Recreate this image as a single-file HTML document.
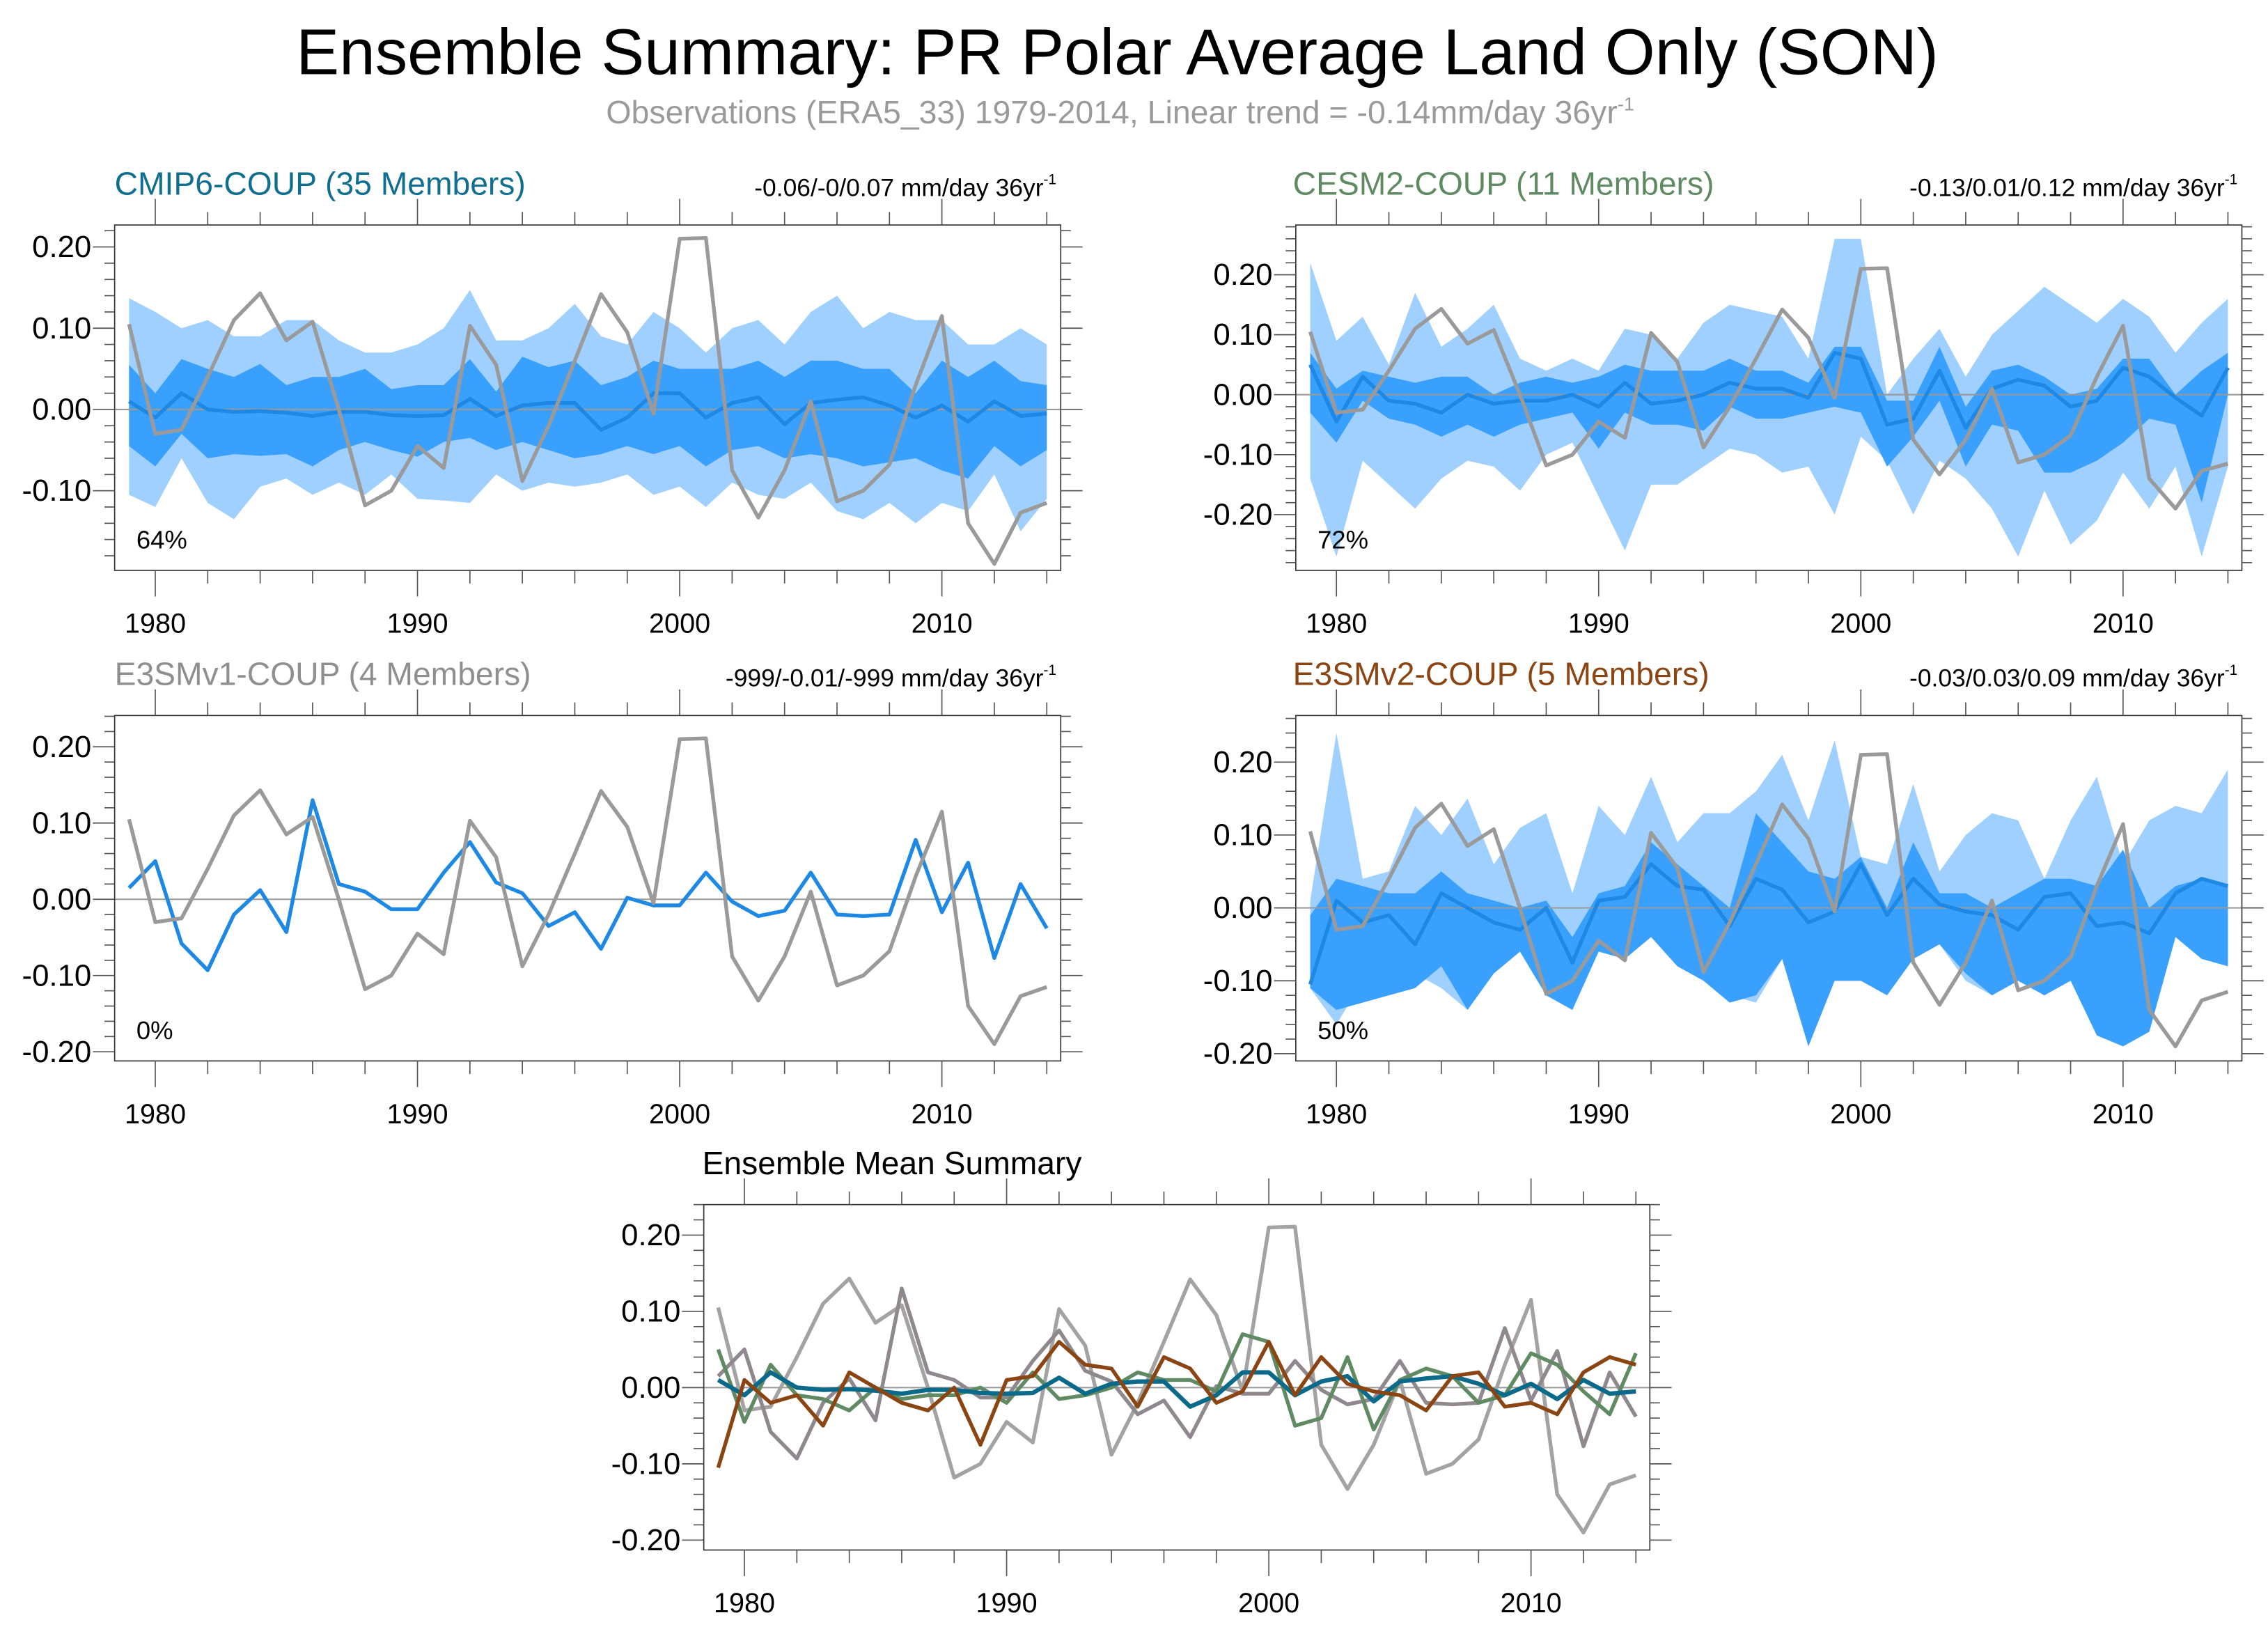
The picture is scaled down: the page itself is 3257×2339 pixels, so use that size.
<!DOCTYPE html>
<html><head><meta charset="utf-8"><style>
html,body{margin:0;padding:0;background:#fff}
svg{display:block;font-family:"Liberation Sans",sans-serif}
</style></head><body>
<svg id="chart" width="3257" height="2339" viewBox="0 0 1563 1122.4" xmlns="http://www.w3.org/2000/svg">
<text x="770" y="51" text-anchor="middle" font-size="44.5" fill="#000">Ensemble Summary: PR Polar Average Land Only (SON)</text>
<text x="772" y="85" text-anchor="middle" font-size="22.3" fill="#9a9a9a">Observations (ERA5_33) 1979-2014, Linear trend = -0.14mm/day 36yr<tspan font-size="13" dy="-9">-1</tspan></text>
</svg>
<script>
const years = [];
for (let y = 1979; y <= 2014; y++) years.push(y);
const obs = [0.105,-0.03,-0.025,0.04,0.11,0.143,0.085,0.108,0.0,-0.118,-0.10,-0.045,-0.072,0.103,0.055,-0.088,-0.02,0.06,0.142,0.095,-0.005,0.21,0.211,-0.075,-0.133,-0.075,0.01,-0.113,-0.1,-0.068,0.03,0.115,-0.14,-0.19,-0.127,-0.115];
const e3v1 = [0.015,0.05,-0.058,-0.093,-0.02,0.012,-0.043,0.13,0.02,0.01,-0.013,-0.013,0.035,0.075,0.022,0.008,-0.035,-0.017,-0.065,0.002,-0.008,-0.008,0.035,-0.003,-0.022,-0.015,0.035,-0.02,-0.022,-0.02,0.078,-0.017,0.048,-0.077,0.02,-0.038];
const cmipMean = [0.01,-0.01,0.02,0,-0.003,-0.002,-0.004,-0.008,-0.003,-0.003,-0.007,-0.008,-0.007,0.013,-0.008,0.005,0.008,0.008,-0.025,-0.01,0.02,0.02,-0.01,0.008,0.015,-0.018,0.008,0.012,0.015,0.005,-0.01,0.005,-0.015,0.01,-0.008,-0.005];
const cmipOutHi = [0.137,0.12,0.10,0.11,0.09,0.09,0.11,0.11,0.085,0.07,0.07,0.08,0.10,0.147,0.085,0.085,0.10,0.13,0.09,0.08,0.12,0.10,0.07,0.10,0.11,0.08,0.12,0.14,0.10,0.12,0.11,0.11,0.08,0.08,0.10,0.08];
const cmipOutLo = [-0.105,-0.12,-0.06,-0.115,-0.135,-0.095,-0.085,-0.105,-0.09,-0.105,-0.08,-0.11,-0.112,-0.115,-0.08,-0.1,-0.09,-0.095,-0.09,-0.08,-0.105,-0.095,-0.12,-0.09,-0.105,-0.11,-0.09,-0.125,-0.135,-0.115,-0.14,-0.115,-0.125,-0.08,-0.15,-0.11];
const cmipInHi = [0.055,0.02,0.062,0.05,0.04,0.056,0.03,0.04,0.04,0.05,0.025,0.03,0.03,0.062,0.022,0.065,0.052,0.06,0.03,0.04,0.06,0.05,0.05,0.05,0.06,0.04,0.06,0.06,0.05,0.05,0.02,0.06,0.04,0.06,0.035,0.03];
const cmipInLo = [-0.045,-0.07,-0.03,-0.06,-0.055,-0.057,-0.055,-0.07,-0.05,-0.04,-0.05,-0.058,-0.04,-0.035,-0.05,-0.04,-0.05,-0.06,-0.055,-0.045,-0.055,-0.045,-0.07,-0.05,-0.045,-0.06,-0.055,-0.06,-0.07,-0.065,-0.06,-0.075,-0.085,-0.045,-0.07,-0.05];
const cesmMean = [0.05,-0.045,0.03,-0.01,-0.015,-0.03,0.0,-0.015,-0.01,-0.01,0.0,-0.02,0.02,-0.015,-0.01,0.0,0.02,0.01,0.01,-0.005,0.07,0.06,-0.05,-0.04,0.04,-0.055,0.01,0.025,0.015,-0.02,-0.01,0.045,0.03,-0.005,-0.035,0.045];
const cesmOutHi = [0.22,0.09,0.13,0.05,0.17,0.08,0.11,0.15,0.06,0.04,0.06,0.04,0.11,0.1,0.06,0.12,0.15,0.14,0.13,0.06,0.26,0.26,0.0,0.06,0.11,0.03,0.1,0.14,0.18,0.15,0.12,0.16,0.13,0.07,0.12,0.16];
const cesmOutLo = [-0.14,-0.27,-0.11,-0.15,-0.19,-0.14,-0.11,-0.12,-0.16,-0.1,-0.08,-0.17,-0.26,-0.15,-0.15,-0.12,-0.09,-0.1,-0.13,-0.12,-0.2,-0.07,-0.11,-0.2,-0.11,-0.14,-0.19,-0.27,-0.16,-0.25,-0.21,-0.13,-0.19,-0.12,-0.27,-0.12];
const cesmInHi = [0.07,0.01,0.04,0.03,0.02,0.03,0.03,0.0,0.02,0.03,0.02,0.03,0.05,0.04,0.04,0.04,0.06,0.04,0.04,0.02,0.08,0.08,-0.01,-0.01,0.08,-0.02,0.04,0.05,0.03,0.0,0.01,0.06,0.06,0.0,0.04,0.07];
const cesmInLo = [-0.03,-0.08,-0.01,-0.04,-0.05,-0.07,-0.05,-0.07,-0.05,-0.04,-0.03,-0.09,-0.03,-0.05,-0.05,-0.06,-0.02,-0.04,-0.04,-0.03,-0.02,-0.03,-0.12,-0.07,-0.01,-0.12,-0.05,-0.06,-0.13,-0.13,-0.11,-0.08,-0.04,-0.05,-0.18,0.0];
const e3v2Mean = [-0.105,0.01,-0.02,-0.01,-0.05,0.02,0.0,-0.02,-0.03,0.0,-0.075,0.01,0.015,0.06,0.03,0.025,-0.025,0.04,0.025,-0.02,-0.005,0.06,-0.01,0.04,0.005,-0.005,-0.01,-0.03,0.015,0.02,-0.025,-0.02,-0.035,0.02,0.04,0.03];
const e3v2OutHi = [0.01,0.24,0.04,0.05,0.14,0.1,0.15,0.06,0.11,0.13,0.02,0.14,0.1,0.18,0.09,0.13,0.13,0.16,0.21,0.12,0.23,0.07,0.06,0.17,0.05,0.10,0.13,0.12,0.04,0.12,0.18,0.06,0.12,0.14,0.13,0.19];
const e3v2OutLo = [-0.11,-0.16,-0.1,-0.09,-0.09,-0.11,-0.14,-0.09,-0.06,-0.12,-0.14,-0.05,-0.07,-0.01,-0.04,-0.1,-0.12,-0.13,-0.07,-0.19,-0.1,-0.1,-0.11,-0.07,-0.05,-0.1,-0.12,-0.1,-0.12,-0.09,-0.175,-0.19,-0.17,-0.04,-0.07,-0.08];
const e3v2InHi = [-0.01,0.04,0.03,0.02,0.02,0.05,0.02,0.01,0.0,0.01,-0.04,0.02,0.03,0.09,0.06,0.03,0.0,0.13,0.09,0.05,0.04,0.07,0.0,0.09,0.02,0.02,0.0,0.02,0.04,0.04,0.03,0.08,0.0,0.03,0.04,0.03];
const e3v2InLo = [-0.11,-0.14,-0.13,-0.12,-0.11,-0.08,-0.14,-0.09,-0.06,-0.12,-0.14,-0.06,-0.07,-0.04,-0.08,-0.1,-0.13,-0.12,-0.07,-0.19,-0.1,-0.1,-0.12,-0.07,-0.05,-0.09,-0.12,-0.1,-0.12,-0.1,-0.175,-0.19,-0.17,-0.04,-0.07,-0.08];
const yTickVals = [-0.20,-0.10,0.00,0.10,0.20];
const yTickLabels = ["-0.20","-0.10","0.00","0.10","0.20"];
const xTickVals = [1980,1990,2000,2010];

const NS = "http://www.w3.org/2000/svg";
const svg = document.getElementById("chart");
function mk(tag, attrs, parent) {
  const e = document.createElementNS(NS, tag);
  for (const k in attrs) e.setAttribute(k, attrs[k]);
  (parent || svg).appendChild(e);
  return e;
}
function panel(cfg) {
  const g = mk("g", {});
  
  
  const bx = cfg.x, by = cfg.y, bw = 652, bh = 238;
  const xmin = 1978.45, xmax = xmin + bw / 18.07;
  const X = v => bx + (v - xmin) / (xmax - xmin) * bw;
  const Y = v => by + (cfg.ymax - v) / (cfg.ymax - cfg.ymin) * bh;
  const pts = arr => arr.map((v, i) => X(years[i]).toFixed(2) + "," + Y(v).toFixed(2)).join(" ");
  const band = (hi, lo, color, nm) => {
    const p = mk("polygon", {points: pts(hi) + " " + lo.map((v, i) => [X(years[i]), Y(v)]).reverse().map(a => a[0].toFixed(2) + "," + a[1].toFixed(2)).join(" "), fill: color}, g);
    
    
  };
  if (cfg.bands) {
    band(cfg.bands[0], cfg.bands[1], "#9fd0ff", "outer-spread-band");
    band(cfg.bands[2], cfg.bands[3], "#3aa0fe", "inner-spread-band");
  }
  const zl = mk("line", {x1: bx, x2: bx + bw, y1: Y(0), y2: Y(0), stroke: "#999", "stroke-width": 1}, g);
  
  
  for (const s of cfg.series) {
    const l = mk("polyline", {points: pts(s.data), fill: "none", stroke: s.color, "stroke-width": s.w || 2.6, "stroke-linejoin": "round"}, g);
    
    
  }
  const frame = mk("rect", {x: bx, y: by, width: bw, height: bh, fill: "none", stroke: "#333", "stroke-width": 0.8}, g);
  
  
  for (let k = -30; k <= 30; k++) {
    const v = k * 0.02;
    if (v < cfg.ymin - 1e-9 || v > cfg.ymax + 1e-9) continue;
    const major = k % 5 === 0;
    const len = major ? 15 : 7;
    mk("line", {x1: bx - len, x2: bx, y1: Y(v), y2: Y(v), stroke: "#555", "stroke-width": 0.8}, g);
    mk("line", {x1: bx + bw, x2: bx + bw + len, y1: Y(v), y2: Y(v), stroke: "#555", "stroke-width": 0.8}, g);
  }
  yTickVals.forEach((v, i) => {
    if (v < cfg.ymin || v > cfg.ymax) return;
    const t = mk("text", {x: bx - 16, y: Y(v) + 7, "text-anchor": "end", "font-size": 21}, g);
    t.textContent = yTickLabels[i];
    
    
  });
  for (let yr = 1980; yr <= 2014; yr += 2) {
    const major = yr % 10 === 0;
    const len = major ? 18 : 9;
    mk("line", {x1: X(yr), x2: X(yr), y1: by - len, y2: by, stroke: "#555", "stroke-width": 0.8}, g);
    mk("line", {x1: X(yr), x2: X(yr), y1: by + bh, y2: by + bh + len, stroke: "#555", "stroke-width": 0.8}, g);
  }
  xTickVals.forEach(v => {
    const t = mk("text", {x: X(v), y: by + bh + 43, "text-anchor": "middle", "font-size": 19}, g);
    t.textContent = v;
    
    
  });
  const tt = mk("text", {x: cfg.tx, y: by - 21, "font-size": 22.2, fill: cfg.tcolor}, g);
  tt.textContent = cfg.title;
  
  
  if (cfg.trend) {
    const tr = mk("text", {x: bx + bw - 3, y: by - 20, "text-anchor": "end", "font-size": 17}, g);
    tr.textContent = cfg.trend;
    const sp = mk("tspan", {"font-size": 10, dy: -8}, tr);
    sp.textContent = "-1";
    
    
  }
  if (cfg.pct) {
    const p = mk("text", {x: bx + 15, y: by + 223, "font-size": 17.5}, g);
    p.textContent = cfg.pct;
    
    
  }
}
const OBS = "#9a9a9a", MEAN = "#1e88e5";
panel({name: "cmip6-panel", x: 79, y: 155, ymin: -0.198, ymax: 0.227, title: "CMIP6-COUP (35 Members)", tx: 79, tcolor: "#106f8f", trend: "-0.06/-0/0.07 mm/day 36yr", pct: "64%",
  bands: [cmipOutHi, cmipOutLo, cmipInHi, cmipInLo],
  series: [{data: cmipMean, color: MEAN, name: "cmip6-mean-line"}, {data: obs, color: OBS, name: "observations-line"}]});
panel({name: "cesm2-panel", x: 893, y: 155, ymin: -0.293, ymax: 0.283, title: "CESM2-COUP (11 Members)", tx: 891, tcolor: "#5f8a62", trend: "-0.13/0.01/0.12 mm/day 36yr", pct: "72%",
  bands: [cesmOutHi, cesmOutLo, cesmInHi, cesmInLo],
  series: [{data: cesmMean, color: MEAN, name: "cesm2-mean-line"}, {data: obs, color: OBS, name: "observations-line"}]});
panel({name: "e3smv1-panel", x: 79, y: 493, ymin: -0.212, ymax: 0.241, title: "E3SMv1-COUP (4 Members)", tx: 79, tcolor: "#8f8f8f", trend: "-999/-0.01/-999 mm/day 36yr", pct: "0%",
  series: [{data: e3v1, color: MEAN, name: "e3smv1-mean-line"}, {data: obs, color: OBS, name: "observations-line"}]});
panel({name: "e3smv2-panel", x: 893, y: 493, ymin: -0.21, ymax: 0.264, title: "E3SMv2-COUP (5 Members)", tx: 891, tcolor: "#8b4513", trend: "-0.03/0.03/0.09 mm/day 36yr", pct: "50%",
  bands: [e3v2OutHi, e3v2OutLo, e3v2InHi, e3v2InLo],
  series: [{data: e3v2Mean, color: MEAN, name: "e3smv2-mean-line"}, {data: obs, color: OBS, name: "observations-line"}]});
panel({name: "ensemble-mean-summary-panel", x: 485, y: 830, ymin: -0.213, ymax: 0.24, title: "Ensemble Mean Summary", tx: 484, tcolor: "#000",
  series: [{data: obs, color: "#a3a3a3", name: "observations-line"}, {data: e3v1, color: "#8f898f", name: "e3smv1-mean-line"},
           {data: cesmMean, color: "#5f8a62", name: "cesm2-mean-line"}, {data: cmipMean, color: "#0b6a8a", name: "cmip6-mean-line", w: 3},
           {data: e3v2Mean, color: "#8b4513", name: "e3smv2-mean-line"}]});
</script>
</body></html>
